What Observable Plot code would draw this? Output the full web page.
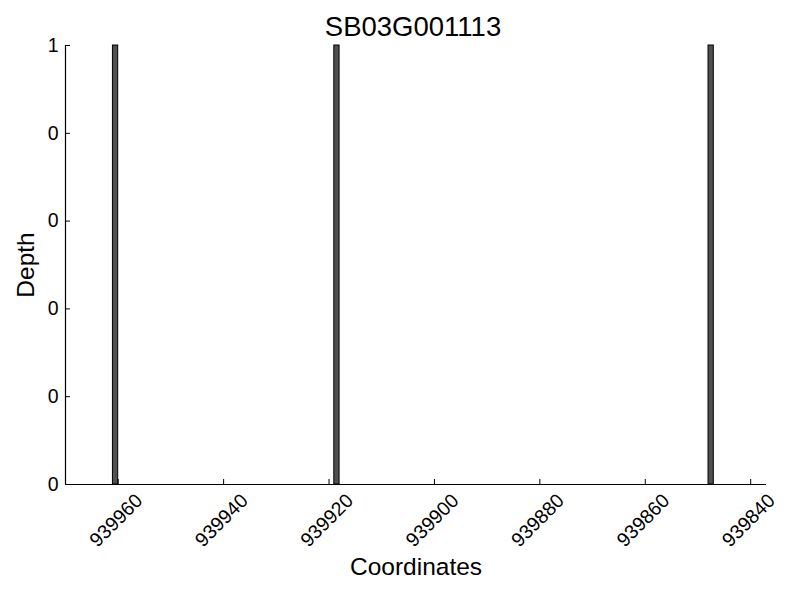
<!DOCTYPE html>
<html>
<head>
<meta charset="utf-8">
<script src="https://cdn.jsdelivr.net/npm/d3@7"></script>
<script src="https://cdn.jsdelivr.net/npm/@observablehq/plot@0.6"></script>
<style>
  html, body { margin: 0; padding: 0; background: #fff; }
  svg { font-family: "Liberation Sans", Arial, sans-serif; }
</style>
</head>
<body>
<div id="chart"></div>
<script>
const title = "SB03G001113";
const positions = [939960, 939918, 939847];
const depths = [1, 1, 1];
const xTicks = [939960, 939940, 939920, 939900, 939880, 939860, 939840];
const yTicks = [0, 0.2, 0.4, 0.6, 0.8, 1];
const xDomain = [939970, 939837];

const bars = positions.map((p, i) => ({start: p, end: p + 1, depth: depths[i]}));

const chart = Plot.plot({
  width: 800,
  height: 600,
  marginLeft: 65,
  marginRight: 34,
  marginTop: 45,
  marginBottom: 116,
  style: {fontFamily: "Liberation Sans, Arial, sans-serif", background: "#fff", color: "#000"},
  x: {domain: xDomain, ticks: xTicks},
  y: {domain: [0, 1], ticks: yTicks},
  marks: [
    Plot.rectY(bars, {x1: "start", x2: "end", y1: 0, y2: "depth", fill: "#505050", stroke: "#000", strokeWidth: 1}),
    Plot.axisX({ticks: xTicks, tickSize: -5, tickFormat: () => "", label: null}),
    Plot.text(xTicks, {x: d => d, frameAnchor: "bottom", dy: 36, dx: -2, rotate: -45, textAnchor: "middle", lineAnchor: "middle", fontSize: 19.5, text: d => String(d)}),
    Plot.axisY({ticks: yTicks, tickSize: -5, tickPadding: 12, fontSize: 19.5, tickFormat: d => String(Math.floor(d)), label: null}),
    Plot.ruleY([0], {stroke: "#000", strokeWidth: 1.2}),
    Plot.ruleX([xDomain[0]], {y1: 0, y2: 1, stroke: "#000", strokeWidth: 1.2}),
    Plot.text([title], {frameAnchor: "top", dy: -18, dx: -3, lineAnchor: "middle", textAnchor: "middle", fontSize: 27.5, text: d => d}),
    Plot.text(["Depth"], {frameAnchor: "left", dx: -39.5, rotate: -90, lineAnchor: "middle", textAnchor: "middle", fontSize: 24.5, text: d => d}),
    Plot.text(["Coordinates"], {frameAnchor: "bottom", dy: 83, lineAnchor: "middle", textAnchor: "middle", fontSize: 24.5, text: d => d})
  ]
});
document.getElementById("chart").appendChild(chart);
</script>
</body>
</html>
